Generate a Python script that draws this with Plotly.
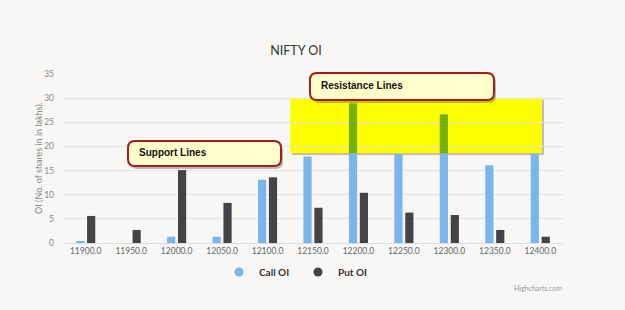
import plotly.graph_objects as go

strikes = [11900, 11950, 12000, 12050, 12100, 12150, 12200, 12250, 12300, 12350, 12400]
call_oi = [0.3, 0.0, 1.3, 1.3, 13.1, 17.9, 28.9, 18.4, 26.6, 16.1, 18.5]
put_oi = [5.6, 2.7, 15.1, 8.3, 13.6, 7.3, 10.4, 6.3, 5.8, 2.7, 1.3]
tick_labels = [f"{s:.1f}" for s in strikes]

# highlighted "resistance" band (data units)
band_lo, band_hi = 18.6, 30.0
band_x0, band_x1 = 4.5, 10.04

CALL_C = "#7cb5ec"
PUT_C = "#434348"
GREEN = "#78b000"
BG = "#f8f7f5"

idx = list(range(len(strikes)))

# plot area pixel geometry
L, R, T, B = 63, 62, 74, 67
W, H = 625, 310
pw, ph = W - L - R, H - T - B

def px2paper(px, py):
    return (px - L) / pw, (H - B - py) / ph

fig = go.Figure()
fig.add_trace(go.Bar(x=idx, y=call_oi, name="Call OI", marker_color=CALL_C,
                     offsetgroup="call", showlegend=False, marker_line_width=0))
fig.add_trace(go.Bar(x=idx, y=put_oi, name="Put OI", marker_color=PUT_C,
                     offsetgroup="put", showlegend=False, marker_line_width=0))
# overlap of call bars with the yellow band, blended colour
gx, gy, gb = [], [], []
for i, v in zip(idx, call_oi):
    if v > band_lo and band_x0 <= i <= band_x1:
        gx.append(i); gb.append(band_lo); gy.append(min(v, band_hi) - band_lo)
fig.add_trace(go.Bar(x=gx, y=gy, base=gb, marker_color=GREEN, offsetgroup="call",
                     showlegend=False, hoverinfo="skip", marker_line_width=0))
# legend entries with circle symbols
fig.add_trace(go.Scatter(x=[None], y=[None], mode="markers", name="<b>Call OI</b>",
                         marker=dict(symbol="circle", size=9, color=CALL_C)))
fig.add_trace(go.Scatter(x=[None], y=[None], mode="markers", name="<b>Put OI</b>",
                         marker=dict(symbol="circle", size=9, color=PUT_C)))

shapes = []
# yellow band shadow + band
shapes.append(dict(type="rect", xref="x", yref="y", x0=band_x0 + 0.04, x1=band_x1 + 0.04,
                   y0=band_lo - 0.35, y1=band_hi - 0.35, fillcolor="rgba(0,0,0,0.25)",
                   line_width=0, layer="below"))
shapes.append(dict(type="rect", xref="x", yref="y", x0=band_x0, x1=band_x1,
                   y0=band_lo, y1=band_hi, fillcolor="#ffff00", line_width=0, layer="below"))


def rounded(px0, py0, px1, py1, r=7):
    x0, y1 = px2paper(px0, py0)
    x1, y0 = px2paper(px1, py1)
    rx, ry = r / pw, r / ph
    return (f"M {x0+rx},{y0} L {x1-rx},{y0} Q {x1},{y0} {x1},{y0+ry} "
            f"L {x1},{y1-ry} Q {x1},{y1} {x1-rx},{y1} L {x0+rx},{y1} "
            f"Q {x0},{y1} {x0},{y1-ry} L {x0},{y0+ry} Q {x0},{y0} {x0+rx},{y0} Z")

callouts = [("Support Lines", 128, 141, 281, 166), ("Resistance Lines", 310, 73, 494, 100)]
annotations = []
for text, a, b, c, d in callouts:
    shapes.append(dict(type="path", xref="paper", yref="paper", path=rounded(a + 2, b + 3, c + 2, d + 3),
                       fillcolor="rgba(0,0,0,0.25)", line_width=0, layer="above"))
    shapes.append(dict(type="path", xref="paper", yref="paper", path=rounded(a, b, c, d),
                       fillcolor="#ffffcc", line=dict(color="#a61c1c", width=2), layer="above"))
    xa, ya = px2paper(a + 9, (b + d) / 2 - 1)
    annotations.append(dict(text=f"<b>{text}</b>", xref="paper", yref="paper", x=xa, y=ya,
                            xanchor="left", yanchor="middle", showarrow=False,
                            font=dict(family="Liberation Sans, Arial", size=10, color="#111")))

cx, cy = px2paper(564, 288)
annotations.append(dict(text="Highcharts.com", xref="paper", yref="paper", x=cx, y=cy,
                        xanchor="right", yanchor="middle", showarrow=False,
                        font=dict(family="Lato, sans-serif", size=7, color="#999")))
yt_x, yt_y = px2paper(38, 158)
annotations.append(dict(text="OI (No. of shares in in lakhs).", xref="paper", yref="paper",
                        x=yt_x, y=yt_y, textangle=-90, showarrow=False,
                        xanchor="center", yanchor="middle",
                        font=dict(family="Lato, sans-serif", size=9, color="#888")))

lx, ly = px2paper(298, 272)
fig.update_layout(
    width=W, height=H,
    margin=dict(l=L, r=R, t=T, b=B),
    paper_bgcolor=BG, plot_bgcolor=BG,
    barmode="group", bargap=0.52, bargroupgap=0.25,
    title=dict(text="NIFTY OI", x=(296) / W, xanchor="center", y=1 - 51 / H, yanchor="middle",
               font=dict(family="Lato, sans-serif", size=12.5, color="#333")),
    xaxis=dict(tickmode="array", tickvals=idx, ticktext=tick_labels, range=[-0.5, 10.5],
               showgrid=False, zeroline=False, showline=True, linecolor="#d8dde3", linewidth=1,
               ticks="", tickfont=dict(family="Lato, sans-serif", size=8.5, color="#666")),
    yaxis=dict(range=[0, 35], dtick=5, gridcolor="#e4e4e4", gridwidth=1, zeroline=False,
               ticks="", ticklabelstandoff=8,
               tickfont=dict(family="Lato, sans-serif", size=8.5, color="#888")),
    legend=dict(orientation="h", x=lx, xanchor="center", y=ly, yanchor="middle",
                font=dict(family="Lato, sans-serif", size=10, color="#333"),
                bgcolor="rgba(0,0,0,0)", itemwidth=30, tracegroupgap=0,
                entrywidth=34, entrywidthmode="pixels"),
    shapes=shapes, annotations=annotations,
)
fig.write_html("out.html")
